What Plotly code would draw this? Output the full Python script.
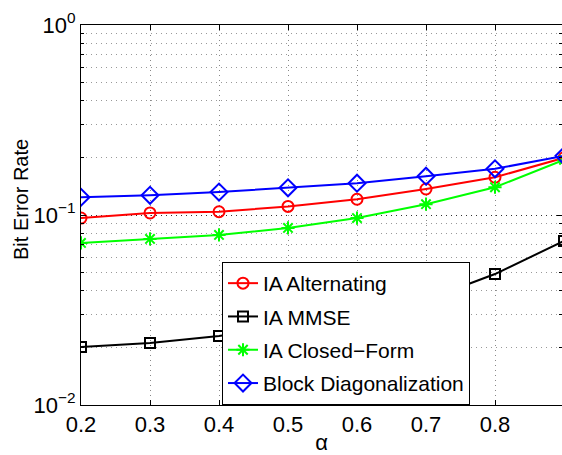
import plotly.graph_objects as go

alpha = [0.2, 0.3, 0.4, 0.5, 0.6, 0.7, 0.8, 0.9]
ia_alternating = [0.0964, 0.1025, 0.104, 0.111, 0.121, 0.137, 0.158, 0.200]
ia_mmse = [0.0202, 0.0212, 0.0231, 0.0262, 0.0300, 0.0357, 0.0489, 0.0730]
ia_closed_form = [0.0713, 0.0748, 0.0785, 0.0855, 0.0964, 0.114, 0.140, 0.195]
block_diag = [0.124, 0.127, 0.132, 0.139, 0.147, 0.160, 0.175, 0.205]

x_ticks = [0.2, 0.3, 0.4, 0.5, 0.6, 0.7, 0.8]
x_tick_labels = ["0.2", "0.3", "0.4", "0.5", "0.6", "0.7", "0.8"]
y_ticks = [0.01, 0.1, 1]
y_tick_labels = ["10<sup>\u22122</sup>", "10<sup>\u22121</sup>", "10<sup>0</sup>"]
y_minor = [m * 10 ** e for e in (-2, -1) for m in range(2, 10)]

FONT = "Liberation Sans, Arial, Helvetica, sans-serif"

fig = go.Figure()
series = [
    ("IA Alternating", ia_alternating, "#ff0000", "circle-open", 11),
    ("IA MMSE", ia_mmse, "#000000", "square-open", 10),
    ("IA Closed\u2212Form", ia_closed_form, "#00ff00", "asterisk-open", 11),
    ("Block Diagonalization", block_diag, "#0000ff", "diamond-open", 13),
]
for name, ys, col, sym, sz in series:
    fig.add_trace(go.Scatter(
        x=alpha, y=ys, name=name, mode="lines+markers", legendgroup=name,
        line=dict(color=col, width=2),
        marker=dict(symbol=sym, size=sz, color=col, line=dict(color=col, width=2)),
    ))

fig.update_layout(
    width=562, height=455,
    margin=dict(l=81, r=0, t=25, b=50),
    paper_bgcolor="white", plot_bgcolor="white",
    font=dict(family=FONT, size=21, color="black"),
    showlegend=True,
    legend=dict(
        x=(222 - 81) / 481, y=(405 - 262) / 380, xanchor="left", yanchor="top",
        bgcolor="white", bordercolor="black", borderwidth=1,
        font=dict(family=FONT, size=21, color="black"),
        tracegroupgap=3, itemwidth=30,
    ),
    xaxis=dict(
        range=[0.2, 0.2 + 0.1 * 481 / 69], tickvals=x_ticks, ticktext=x_tick_labels,
        ticks="inside", ticklen=5, tickcolor="black", mirror="ticks",
        showline=True, linecolor="black", linewidth=1,
        showgrid=True, gridcolor="#888888", griddash="1px,4px", gridwidth=1,
        zeroline=False,
        tickfont=dict(family=FONT, size=22),
        title=dict(text="\u03b1", standoff=2, font=dict(family=FONT, size=22)),
    ),
    yaxis=dict(
        type="log", range=[-2, 0], tickvals=y_ticks, ticktext=y_tick_labels,
        ticks="inside", ticklen=5, tickcolor="black", mirror="ticks",
        showline=True, linecolor="black", linewidth=1,
        showgrid=True, gridcolor="#333333", griddash="1px,4px", gridwidth=1,
        zeroline=False,
        tickfont=dict(family=FONT, size=22),
        minor=dict(tickvals=y_minor, ticks="inside", ticklen=3, tickcolor="black",
                   showgrid=True, gridcolor="#999999", griddash="1px,4px", gridwidth=1),
    ),
    annotations=[dict(
        text="Bit Error Rate", textangle=-90, showarrow=False,
        xref="paper", yref="paper", x=(21 - 81) / 481, y=(405 - 200) / 380,
        xanchor="center", yanchor="middle",
        font=dict(family=FONT, size=20, color="black"),
    )],
)

fig.write_html("out.html")
